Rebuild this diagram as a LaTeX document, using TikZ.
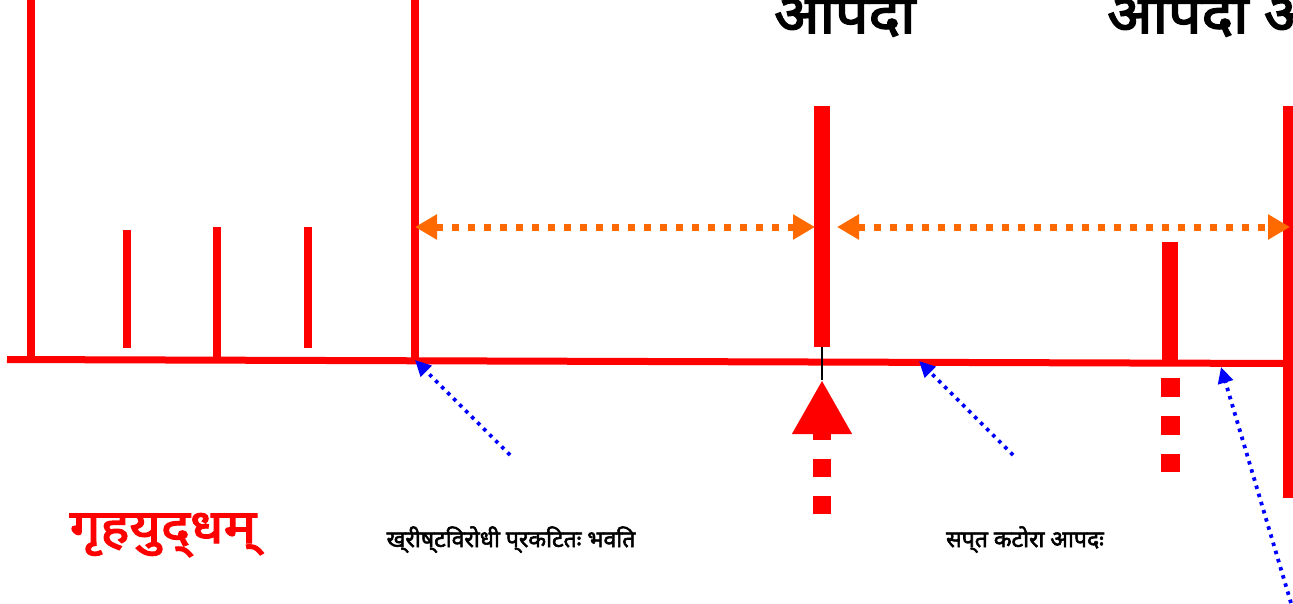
\documentclass[tikz,border=0pt]{standalone}
\usepackage{fontspec}
\setmainfont{Noto Sans}
\newfontfamily\devatitle[Script=Devanagari, FakeBold=3, FakeStretch=1.1]{Noto Sans}
\newfontfamily\devared[Script=Devanagari, FakeBold=3, FakeStretch=1.16]{Noto Sans}
\newfontfamily\devalabel[Script=Devanagari, FakeBold=2.5]{Noto Sans}
\usetikzlibrary{arrows.meta}
\definecolor{org}{HTML}{FF6A00}
\begin{document}
\begin{tikzpicture}[x=1pt,y=-1pt,
  redline/.style={draw=red, line width=8pt},
  redbar/.style={draw=red, line width=16pt},
  orgarrow/.style={draw=org, line width=7pt, dash pattern=on 7pt off 9pt,
    {Triangle[length=22pt,width=24pt]}-{Triangle[length=22pt,width=24pt]}},
  bluearrow/.style={draw=blue, line width=3.8pt, dash pattern=on 3.5pt off 5pt,
    -{Triangle[length=16pt,width=15pt]}},
  title/.style={font=\devatitle\fontsize{54}{56}\selectfont, anchor=base west, inner sep=0pt},
  label/.style={font=\devalabel\fontsize{23}{25}\selectfont, anchor=base, inner sep=0pt}
]
\useasboundingbox (0,0) rectangle (1293,603);
% coordinates
\coordinate (b0) at (7,359.5);
\coordinate (b1) at (1293,363.5);
\coordinate (L0) at (31,0);   \coordinate (L1) at (31,359.5);
\coordinate (R0) at (415,0);  \coordinate (R1) at (415,361);
\coordinate (t1a) at (127,230); \coordinate (t1b) at (127,348);
\coordinate (t2a) at (217,227); \coordinate (t2b) at (217,359.5);
\coordinate (t3a) at (308,227); \coordinate (t3b) at (308,348);
\coordinate (m0) at (822,106);  \coordinate (m1) at (822,347);
\coordinate (n0) at (1170,242); \coordinate (n1) at (1170,362.5);
\coordinate (e0) at (1291,106); \coordinate (e1) at (1291,498);
% base structure
\draw[red, line width=7pt] (b0) -- (b1);
\draw[redline] (L0) -- (L1);
\draw[redline] (R0) -- (R1);
\draw[redline] (t1a) -- (t1b);
\draw[redline] (t2a) -- (t2b);
\draw[redline] (t3a) -- (t3b);
\draw[redbar] (m0) -- (m1);
\draw[redbar] (n0) -- (n1);
\draw[redbar] (e0) -- (e1);
% black connector and big arrow
\coordinate (tip) at (822,380);
\coordinate (tail) at (822,514);
\draw[black, line width=1.5pt] (m1) -- (tip);
\draw[red, line width=18pt, dash pattern=on 18pt off 19pt,
  -{Triangle[length=54pt,width=56pt]}] (tail) -- (tip);
% red dashed under second bar
\coordinate (d0) at (1170,378);
\coordinate (d1) at (1170,472);
\draw[red, line width=19pt, dash pattern=on 19pt off 19pt] (d0) -- (d1);
% orange double arrows
\coordinate (o1) at (415,227); \coordinate (o2) at (815,227);
\coordinate (o3) at (837,227); \coordinate (o4) at (1290,227);
\draw[orgarrow] (o1) -- (o2);
\draw[orgarrow] (o3) -- (o4);
% blue dotted arrows
\coordinate (p1) at (510,455); \coordinate (q1) at (415,360);
\coordinate (p2) at (1013,455); \coordinate (q2) at (919,361);
\coordinate (p3) at (1291,603); \coordinate (q3) at (1221,367);
\draw[bluearrow] (p1) -- (q1);
\draw[bluearrow] (p2) -- (q2);
\draw[bluearrow] (p3) -- (q3);
% texts
\node[title] (h1) at (774,33) {आपदा};
\node[title] (h2) at (1107,33) {आपदा अ};
\node[font=\devared\fontsize{47}{50}\selectfont, text=red, anchor=base, inner sep=0pt] (gy) at (163,543) {गृहयुद्‌धम्};
\node[label] (l1) at (511,547) {ख्‌रीष्‌टविरोधी प्‌रकटितः भवति};
\node[label] (l2) at (1025,547) {सप्‌त कटोरा आपदः};
\end{tikzpicture}
\end{document}
